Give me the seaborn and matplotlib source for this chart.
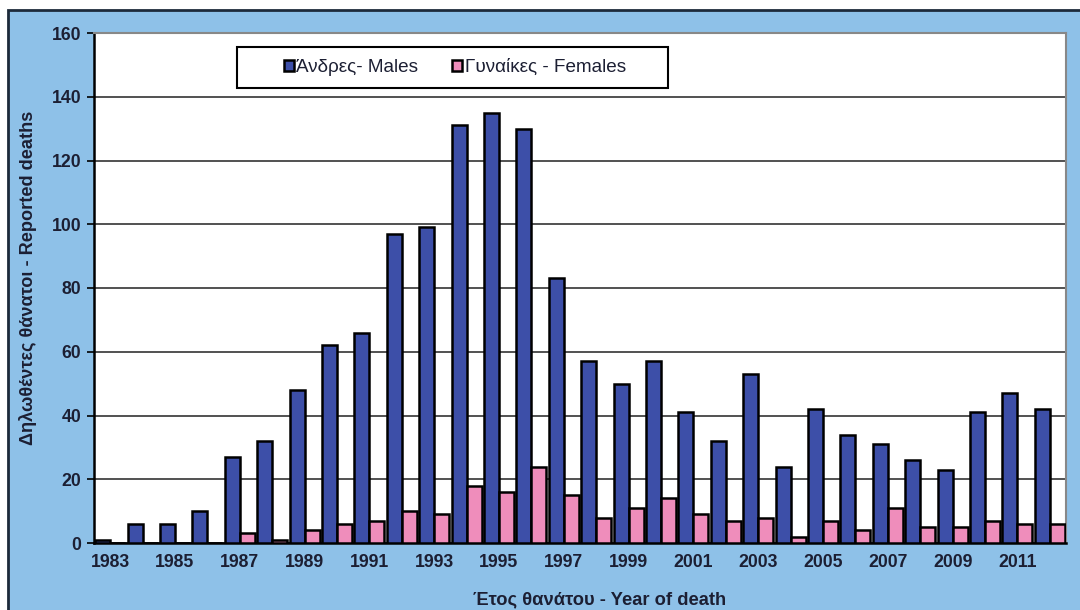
import pandas as pd
import numpy as np
import seaborn as sns
import matplotlib.pyplot as plt
from matplotlib.patches import Rectangle

years = list(range(1983, 2013))
males = [1, 6, 6, 10, 27, 32, 48, 62, 66, 97, 99, 131, 135, 130, 83,
         57, 50, 57, 41, 32, 53, 24, 42, 34, 31, 26, 23, 41, 47, 42]
females = [0, 0, 0, 0, 3, 1, 4, 6, 7, 10, 9, 18, 16, 24, 15,
           8, 11, 14, 9, 7, 8, 2, 7, 4, 11, 5, 5, 7, 6, 6]
labels = ["Άνδρες- Males", "Γυναίκες - Females"]

df = pd.DataFrame({
    "year": years * 2,
    "deaths": males + females,
    "sex": [labels[0]] * len(years) + [labels[1]] * len(years),
})

sns.set_style("white")
plt.rcParams['font.family'] = ['Liberation Sans', 'DejaVu Sans']
txt = "#1c1f33"
bg = "#8ec1e8"

fig = plt.figure(figsize=(10.8, 6.1), dpi=100)
fig.patch.set_facecolor("white")
# blue chart area with dark frame on top/left
fig.patches.append(Rectangle((8 / 1080, -0.1), 1.2, 0.1 + 600 / 610,
                             transform=fig.transFigure, facecolor=bg,
                             edgecolor="#1d2a3a", linewidth=2, zorder=-1))

ax = fig.add_axes([94 / 1080, 1 - 543 / 610, (1066 - 94) / 1080, (543 - 33) / 610])
ax.set_facecolor("white")

sns.barplot(data=df, x="year", y="deaths", hue="sex", ax=ax,
            palette=["#3d4fa8", "#ef8dbb"], edgecolor="black",
            linewidth=1.8, width=0.92, saturation=1, errorbar=None, zorder=3)

ax.set_ylim(0, 160)
ax.set_xlim(-0.5, len(years) - 0.5)
ax.set_yticks(range(0, 161, 20))
ax.yaxis.grid(True, color="#222222", linewidth=1.1)
ax.set_axisbelow(True)

ax.set_xticks(range(0, len(years), 2))
ax.set_xticklabels([str(y) for y in years[::2]])
ax.set_xticks(np.arange(-0.5, len(years), 1), minor=True)
ax.tick_params(axis="x", which="major", length=0, pad=8, labelsize=12.7, labelcolor=txt)
ax.tick_params(axis="x", which="minor", length=7, width=1.5, direction="inout", color="black")
ax.tick_params(axis="y", length=5, width=1.2, direction="out", color="black",
               labelsize=12.7, labelcolor=txt, pad=4, left=True)
for lab in ax.get_xticklabels() + ax.get_yticklabels():
    lab.set_fontweight("bold")

for s in ["top", "right"]:
    ax.spines[s].set_color("#888888")
    ax.spines[s].set_linewidth(1.5)
for s in ["left", "bottom"]:
    ax.spines[s].set_color("black")
    ax.spines[s].set_linewidth(1.8)

ax.set_xlabel("")
ax.set_ylabel("")
fig.text(600 / 1080, 1 - 600 / 610, "Έτος θανάτου - Year of death", ha="center", va="center",
         fontsize=13.2, fontweight="bold", color=txt)
fig.text(28 / 1080, 1 - 278 / 610, "Δηλωθέντες θάνατοι - Reported deaths", ha="center", va="center",
         rotation=90, fontsize=13.1, fontweight="bold", color=txt)

# legend box drawn separately so its size matches the original
ax.add_patch(Rectangle((237 / 1080, 1 - 88 / 610), 431 / 1080, 41 / 610,
                       transform=fig.transFigure, facecolor="white", edgecolor="black",
                       linewidth=1.5, zorder=4.5, clip_on=False))
leg = ax.legend(loc="center", bbox_to_anchor=(455 / 1080, 1 - 67.5 / 610),
                bbox_transform=fig.transFigure, ncol=2, frameon=False,
                fontsize=13.6, handlelength=0.5, handleheight=0.5,
                handletextpad=0.15, columnspacing=1.8, borderpad=0)
for t in leg.get_texts():
    t.set_color(txt)

fig.savefig("out.png", dpi=100)
